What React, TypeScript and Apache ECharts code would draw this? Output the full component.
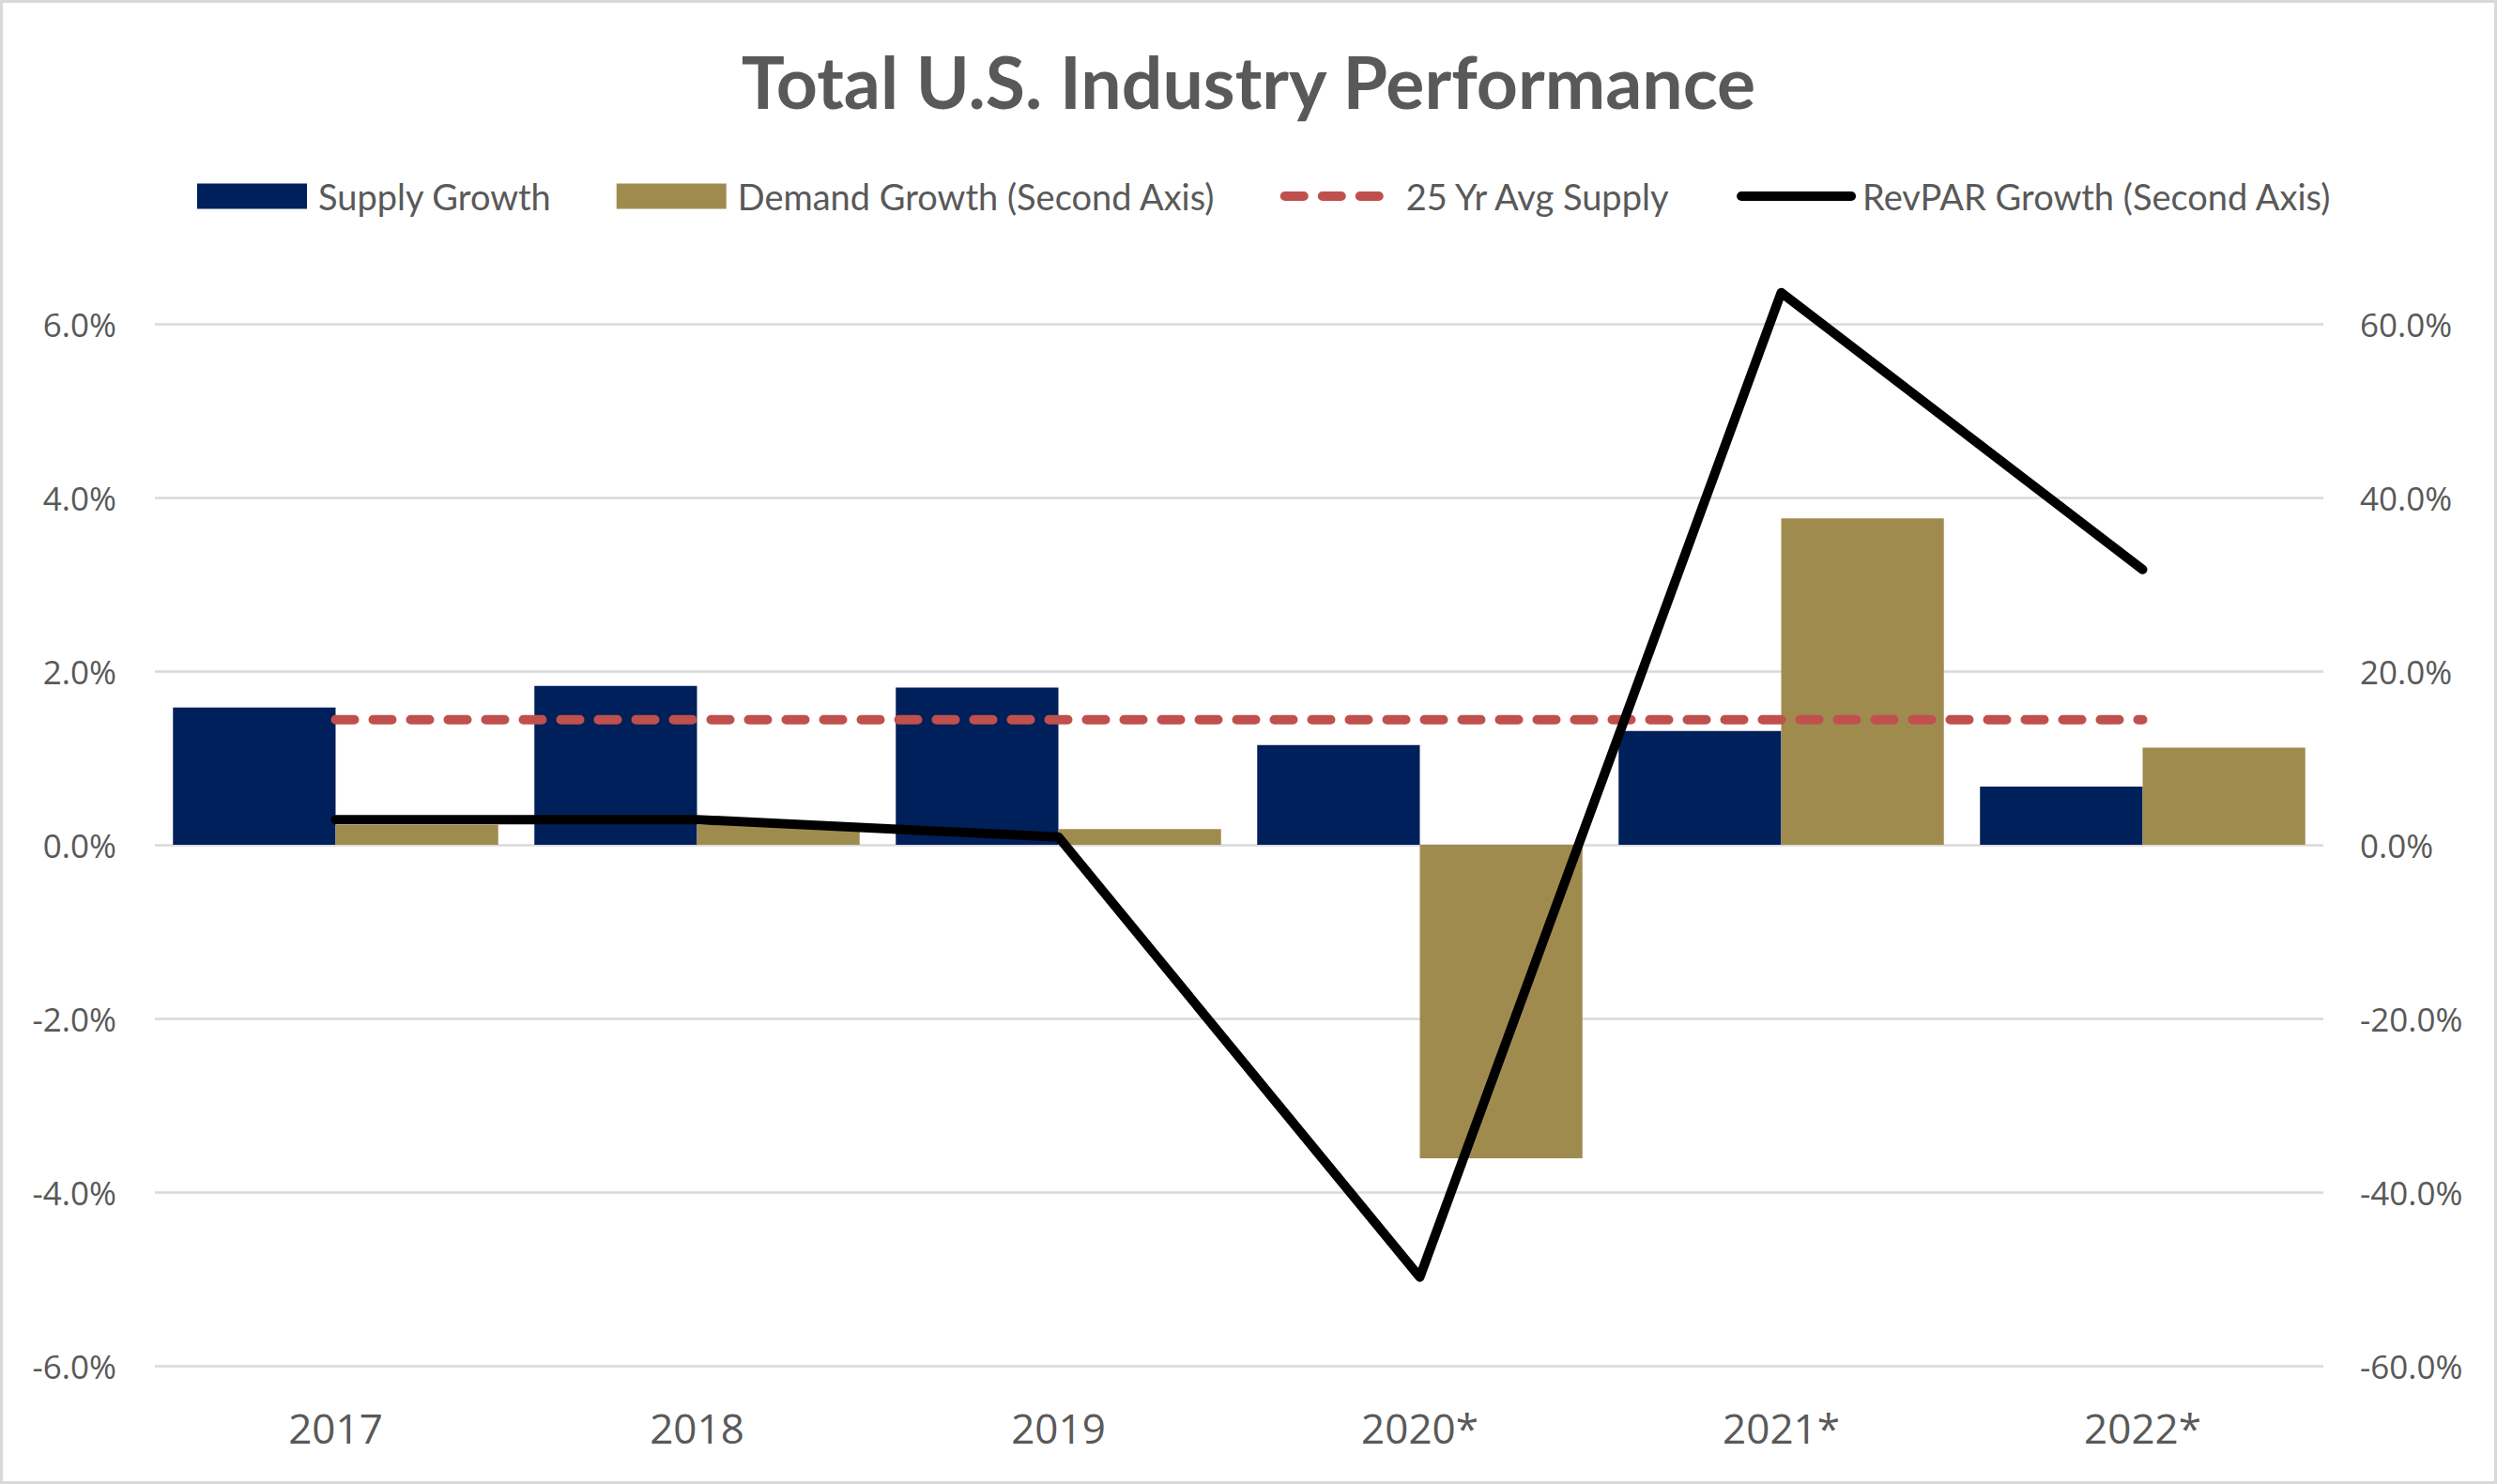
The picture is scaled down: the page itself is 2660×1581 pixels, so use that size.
import React, { useEffect, useRef } from "react";
import * as echarts from "echarts";

const categories = ["2017", "2018", "2019", "2020*", "2021*", "2022*"];
const supplyGrowth = [1.58, 1.83, 1.81, 1.15, 1.31, 0.67];
const demandGrowth = [2.3, 2.3, 1.8, -36.1, 37.6, 11.2];
const avgSupply = [1.44, 1.44, 1.44, 1.44, 1.44, 1.44];
const revparGrowth = [2.9, 2.9, 0.9, -49.8, 63.6, 31.7];
const leftTicks = { min: -6, max: 6, interval: 2 };
const rightTicks = { min: -60, max: 60, interval: 20 };

const NAVY = "#00205B";
const GOLD = "#A08B4F";
const RED = "#C0504D";
const TEXT = "#595959";
const GRID = "#D9D9D9";

const hiddenSymbol = { color: "rgba(0,0,0,0)", borderWidth: 0, opacity: 0 };

export default function App() {
  const ref = useRef<HTMLDivElement>(null);
  useEffect(() => {
    if (!ref.current) return;
    const chart = echarts.init(ref.current, null, { renderer: "svg" });
    chart.setOption({
      animation: false,
      backgroundColor: "#ffffff",
      title: {
        text: "Total U.S. Industry Performance",
        left: "center",
        top: 42,
        textStyle: {
          fontFamily: "Lato",
          fontWeight: "bold",
          fontSize: 77,
          color: TEXT,
        },
      },
      legend: {
        top: 185,
        left: 205,
        itemWidth: 117,
        itemHeight: 27,
        itemGap: 69,
        textStyle: {
          fontFamily: "Lato",
          fontSize: 38,
          color: TEXT,
          padding: [0, 0, 0, 7],
        },
        lineStyle: { width: 10 },
        data: [
          { name: "Supply Growth", icon: "rect" },
          { name: "Demand Growth (Second Axis)", icon: "rect" },
          { name: "25 Yr Avg Supply", itemStyle: hiddenSymbol },
          { name: "RevPAR Growth (Second Axis)", itemStyle: hiddenSymbol },
        ],
      },
      graphic: [
        {
          type: "rect",
          shape: { x: 1.5, y: 1.5, width: 2657, height: 1578 },
          style: { fill: "none", stroke: GRID, lineWidth: 3 },
          silent: true,
        },
      ],
      grid: { left: 165, right: 185, top: 345, bottom: 126, containLabel: false },
      xAxis: {
        type: "category",
        data: categories,
        axisLine: { show: false, onZero: false },
        axisTick: { show: false },
        axisLabel: {
          margin: 44,
          fontFamily: "Open Sans",
          fontSize: 44,
          color: TEXT,
        },
      },
      yAxis: [
        {
          type: "value",
          min: leftTicks.min,
          max: leftTicks.max,
          interval: leftTicks.interval,
          axisLine: { show: false },
          axisTick: { show: false },
          splitLine: { show: true, lineStyle: { color: GRID, width: 2.5 } },
          axisLabel: {
            margin: 41,
            fontFamily: "Open Sans",
            fontSize: 35,
            color: TEXT,
            formatter: (v: number) => v.toFixed(1) + "%",
          },
        },
        {
          type: "value",
          min: rightTicks.min,
          max: rightTicks.max,
          interval: rightTicks.interval,
          axisLine: { show: false },
          axisTick: { show: false },
          splitLine: { show: false },
          axisLabel: {
            margin: 39,
            fontFamily: "Open Sans",
            fontSize: 35,
            color: TEXT,
            formatter: (v: number) => v.toFixed(1) + "%",
          },
        },
      ],
      series: [
        {
          name: "Supply Growth",
          type: "bar",
          yAxisIndex: 0,
          data: supplyGrowth,
          barWidth: "45%",
          barGap: "0%",
          itemStyle: { color: NAVY },
          z: 2,
        },
        {
          name: "Demand Growth (Second Axis)",
          type: "bar",
          yAxisIndex: 1,
          data: demandGrowth,
          barWidth: "45%",
          barGap: "0%",
          itemStyle: { color: GOLD },
          z: 2,
        },
        {
          name: "25 Yr Avg Supply",
          type: "line",
          yAxisIndex: 0,
          data: avgSupply,
          symbol: "none",
          clip: false,
          lineStyle: { color: RED, width: 10, type: [20, 20], cap: "round" },
          itemStyle: { color: RED },
          z: 3,
        },
        {
          name: "RevPAR Growth (Second Axis)",
          type: "line",
          yAxisIndex: 1,
          data: revparGrowth,
          symbol: "none",
          clip: false,
          lineStyle: { color: "#000000", width: 10, cap: "round", join: "round" },
          itemStyle: { color: "#000000" },
          z: 4,
        },
      ],
    });
    return () => chart.dispose();
  }, []);
  return (
    <div
      ref={ref}
      style={{ position: "fixed", left: 0, top: 0, width: 2660, height: 1581 }}
    />
  );
}
